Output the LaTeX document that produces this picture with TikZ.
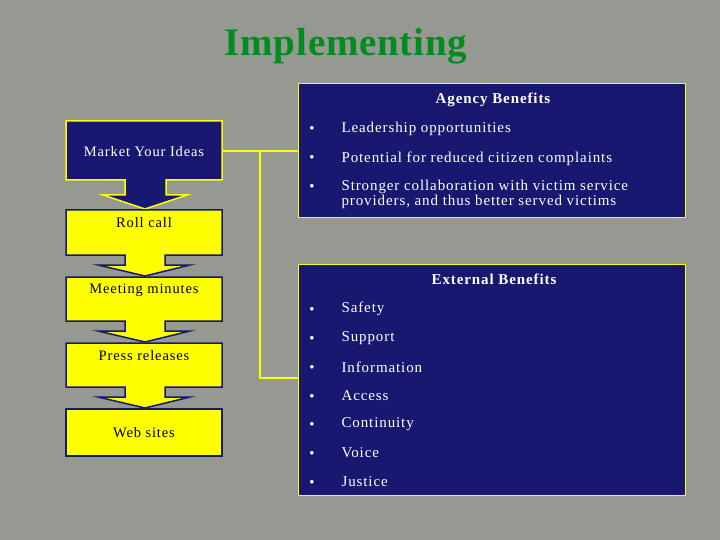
\documentclass[tikz,border=0pt]{standalone}
\usepackage{fontspec}
\setmainfont{Liberation Serif}
\newfontfamily\spaced[LetterSpace=6]{Liberation Serif}
\newfontfamily\titlef[LetterSpace=2]{Liberation Serif}
\definecolor{bg}{RGB}{150,152,146}
\definecolor{navy}{RGB}{24,24,112}
\definecolor{yel}{RGB}{255,255,0}
\definecolor{tgreen}{RGB}{0,140,30}
\begin{document}
\begin{tikzpicture}[x=1pt,y=-1pt,
  ybox/.style={draw=navy,line width=1.5pt,fill=yel},
  nbox/.style={draw=yel,line width=1.5pt,fill=navy},
  panel/.style={draw=yel,line width=1pt,fill=navy},
  lbl/.style={font=\spaced\fontsize{14.5}{16}\selectfont,text=black},
  btxt/.style={font=\spaced\fontsize{15}{15}\selectfont,text=white,anchor=west,align=left},
  htxt/.style={font=\spaced\bfseries\fontsize{15}{16}\selectfont,text=white},
  conn/.style={draw=yel,line width=2pt}]
\fill[bg] (0,0) rectangle (720,540);
\node[font=\titlef\bfseries\fontsize{39}{44}\selectfont,text=tgreen] (title) at (346,46) {Implementing};
% panels
\draw[panel] (298,84) rectangle (685,218);
\draw[panel] (298,264) rectangle (685,495);
\node[htxt] (ah) at (493,100) {Agency Benefits};
\node[htxt] (eh) at (494,279) {External Benefits};
\foreach \y/\t in {128/Leadership opportunities,157/Potential for reduced citizen complaints,186/{Stronger collaboration with victim service\\providers, and thus better served victims}}{
  \node[font=\fontsize{9}{10}\selectfont,text=white] at (312,\y) {$\bullet$};
  \node[btxt,anchor=north west] at (338,\y-9) {\t};}
\foreach \y/\t in {309/Safety,338/Support,367/Information,396/Access,424/Continuity,453/Voice,482/Justice}{
  \node[font=\fontsize{9}{10}\selectfont,text=white] at (312,\y) {$\bullet$};
  \node[btxt] at (338,\y) {\t};}
% left boxes and arrows
\draw[nbox] (66,121) -- (222,121) -- (222,180) -- (166,180) -- (166,195) -- (187,195) -- (145,209) -- (103,195) -- (125,195) -- (125,180) -- (66,180) -- cycle;
\foreach \a/\b/\c in {210/255/277,277/321/343,343/387/409}{
  \draw[ybox] (66,\a) -- (222,\a) -- (222,\b) -- (165,\b) -- (165,\b+10) -- (190,\b+10) -- (145,\c-1) -- (98,\b+10) -- (125,\b+10) -- (125,\b) -- (66,\b) -- cycle;}
\draw[ybox] (66,409) rectangle (222,456);
\node[lbl,text=white] (m) at (144,152) {Market Your Ideas};
\node[lbl] (r) at (144,223) {Roll call};
\node[lbl] (mm) at (144,290) {Meeting minutes};
\node[lbl] (p) at (144,356) {Press releases};
\node[lbl] (w) at (144,433) {Web sites};
\coordinate (c1) at (222,151);
\coordinate (c2) at (298,151);
\coordinate (c3) at (298,378);
\draw[conn] (c1) -- (c2);
\draw[conn] (260,151) |- (c3);
\end{tikzpicture}
\end{document}
